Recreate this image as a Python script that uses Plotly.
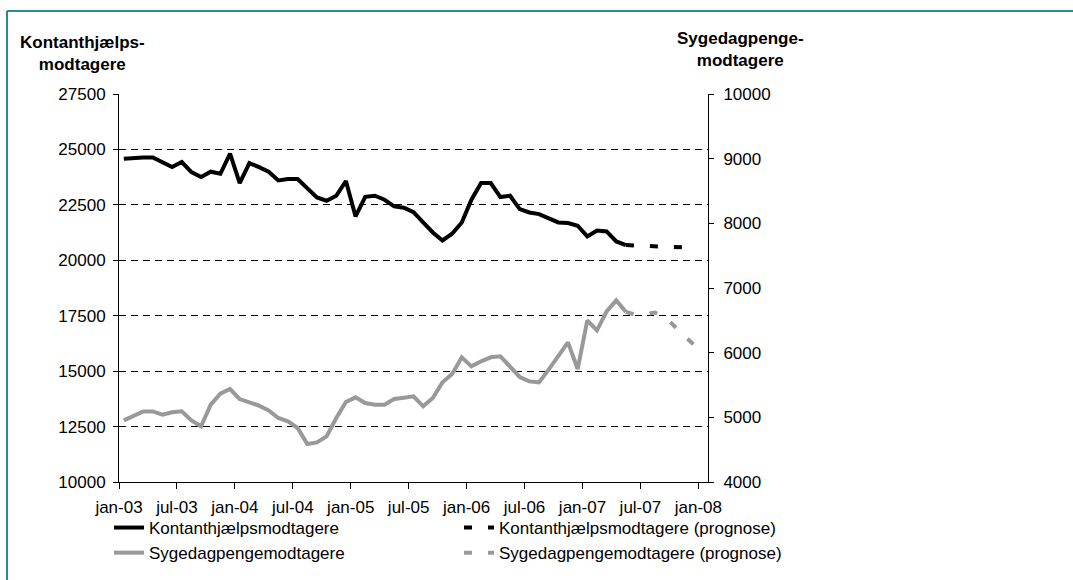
import plotly.graph_objects as go

# ---- data ----
tick_labels = ["jan-03", "jul-03", "jan-04", "jul-04", "jan-05", "jul-05",
               "jan-06", "jul-06", "jan-07", "jul-07", "jan-08"]

kontant = [24580, 24625, 24640, 24640, 24410, 24204, 24430, 23979, 23753, 23994,
           23903, 24806, 23482, 24385, 24204, 23994, 23602, 23663, 23663, 23226,
           22835, 22685, 22911, 23573, 21978, 22865, 22911, 22730, 22429, 22369,
           22174, 21707, 21256, 20895, 21196, 21707, 22730, 23482, 23482, 22851,
           22911, 22309, 22158, 22084, 21873, 21707, 21677, 21557, 21075, 21346,
           21301, 20850, 20684]
kontant_prog = [20684, 20660, 20635, 20615, 20600, 20590, 20580, 20570]

syge = [4953, 5025, 5092, 5092, 5041, 5077, 5092, 4953, 4861, 5196,
        5366, 5438, 5283, 5232, 5180, 5108, 4990, 4938, 4835, 4588,
        4613, 4706, 4990, 5237, 5309, 5221, 5196, 5196, 5283, 5304,
        5324, 5170, 5299, 5541, 5670, 5928, 5788, 5866, 5928, 5943,
        5778, 5624, 5556, 5541, 5737, 5953, 6159, 5747, 6500, 6345,
        6639, 6809, 6630]
syge_prog = [6630, 6585, 6595, 6620, 6560, 6405, 6266, 6127]

prog_start = len(kontant) - 1
x_main = [i + 0.5 for i in range(len(kontant))]
x_prog = [prog_start + i + 0.5 for i in range(len(kontant_prog))]

W, H = 1073, 580
L, R, T, B = 119, W - 708, 94, H - 482
PW, PH = W - L - R, H - T - B


def px(xp):
    return (xp - L) / PW


def py(yp):
    return (H - B - yp) / PH


FONT = "Liberation Sans, Arial, sans-serif"
BLACK = "#000000"
GREY = "#999999"

fig = go.Figure()
fig.add_trace(go.Scatter(x=x_main, y=kontant, mode="lines", name="Kontanthjælpsmodtagere",
                         line=dict(color=BLACK, width=4)))
fig.add_trace(go.Scatter(x=x_prog, y=kontant_prog, mode="lines",
                         name="Kontanthjælpsmodtagere (prognose)",
                         line=dict(color=BLACK, width=4, dash="8px,16px")))
fig.add_trace(go.Scatter(x=x_main, y=syge, mode="lines", name="Sygedagpengemodtagere",
                         line=dict(color=GREY, width=4), yaxis="y2"))
fig.add_trace(go.Scatter(x=x_prog, y=syge_prog, mode="lines",
                         name="Sygedagpengemodtagere (prognose)",
                         line=dict(color=GREY, width=4, dash="8px,16px"), yaxis="y2"))

fig.update_layout(
    width=W, height=H,
    margin=dict(l=L, r=R, t=T, b=B, autoexpand=False),
    paper_bgcolor="white", plot_bgcolor="white",
    font=dict(family=FONT, size=17, color=BLACK),
    showlegend=True,
    legend=dict(orientation="h", x=px(109), y=py(510), xanchor="left", yanchor="top",
                entrywidth=305, entrywidthmode="pixels", traceorder="normal",
                font=dict(size=17), bgcolor="rgba(0,0,0,0)"),
    xaxis=dict(range=[0, 61], tickmode="array", tickvals=[6 * k for k in range(11)],
               ticktext=tick_labels, showgrid=False, zeroline=False,
               showline=True, linecolor=BLACK, linewidth=1,
               ticks="outside", ticklen=6, tickcolor=BLACK,
               ticklabelstandoff=4),
    yaxis=dict(range=[10000, 27500], tickmode="linear", tick0=10000, dtick=2500,
               tickformat="d",
               showgrid=True, gridcolor=BLACK, gridwidth=1, griddash="7px,5px",
               zeroline=False, showline=True, linecolor=BLACK, linewidth=1,
               ticks="outside", ticklen=5, tickcolor=BLACK, ticklabelstandoff=4),
    yaxis2=dict(range=[4000, 10000], tickmode="linear", tick0=4000, dtick=1000,
                tickformat="d",
                overlaying="y", side="right", showgrid=False, zeroline=False,
                showline=True, linecolor=BLACK, linewidth=1,
                ticks="outside", ticklen=5, tickcolor=BLACK, ticklabelstandoff=6),
)

fig.add_annotation(text="<b>Kontanthjælps-</b><br><b>modtagere</b>", xref="paper", yref="paper",
                   x=px(82), y=py(54), xanchor="center", yanchor="middle",
                   showarrow=False, font=dict(size=17, family=FONT))
fig.add_annotation(text="<b>Sygedagpenge-</b><br><b>modtagere</b>", xref="paper", yref="paper",
                   x=px(740), y=py(50), xanchor="center", yanchor="middle",
                   showarrow=False, font=dict(size=17, family=FONT))

# frame (top and left teal border)
BORDER = "#2a8c8c"
fig.add_shape(type="line", xref="paper", yref="paper", x0=px(7), x1=px(W + 5),
              y0=py(11), y1=py(11), line=dict(color=BORDER, width=2))
fig.add_shape(type="line", xref="paper", yref="paper", x0=px(7), x1=px(7),
              y0=py(11), y1=py(H + 5), line=dict(color=BORDER, width=2))

fig.write_html("out.html", config={"displayModeBar": False},
               post_script="document.body.style.margin='0px';")
